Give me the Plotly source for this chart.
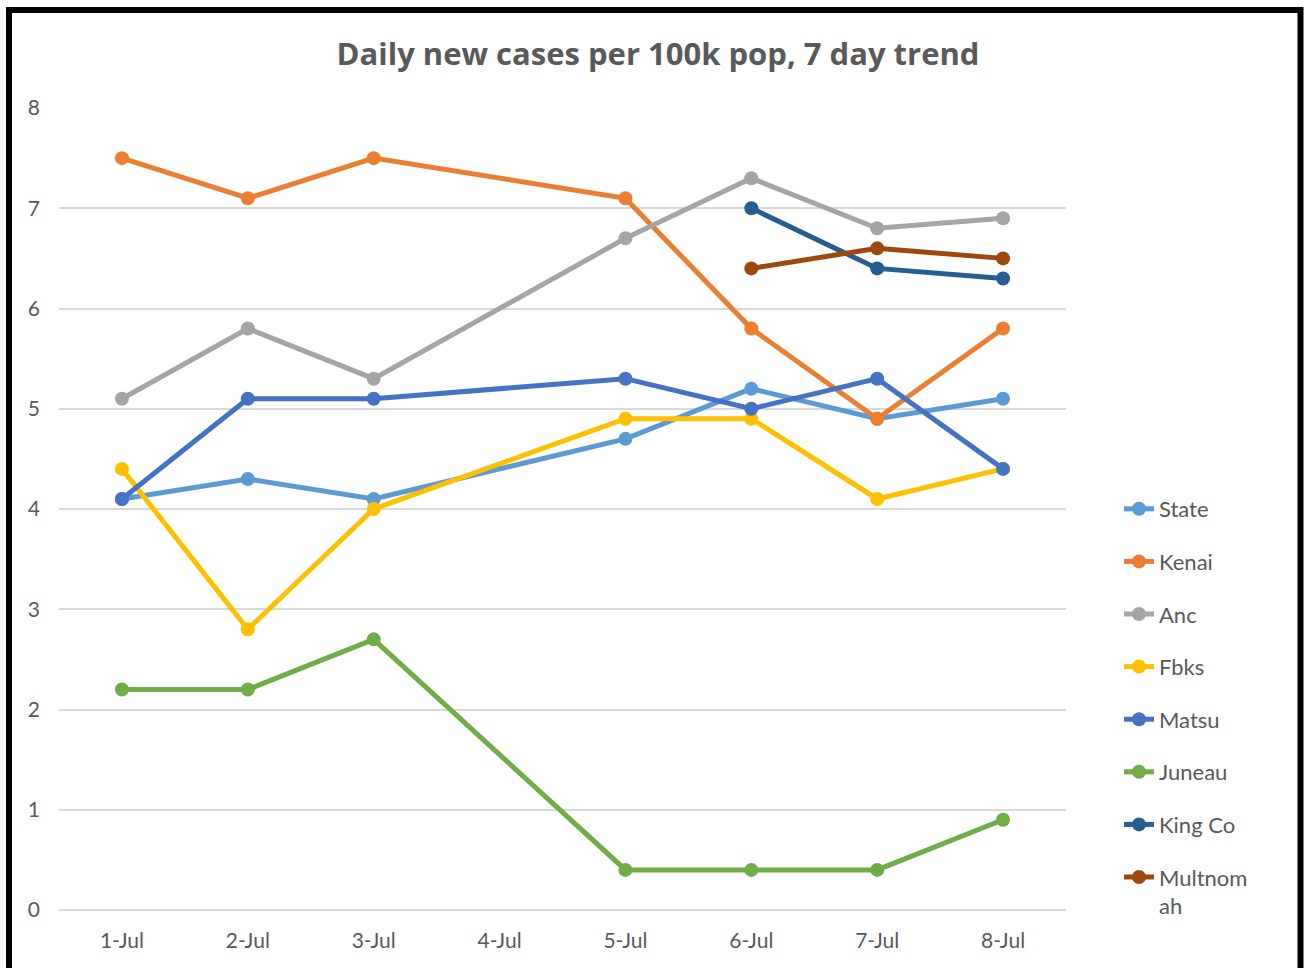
import plotly.graph_objects as go

dates = ["1-Jul", "2-Jul", "3-Jul", "4-Jul", "5-Jul", "6-Jul", "7-Jul", "8-Jul"]
state = [4.1, 4.3, 4.1, None, 4.7, 5.2, 4.9, 5.1]
kenai = [7.5, 7.1, 7.5, None, 7.1, 5.8, 4.9, 5.8]
anc = [5.1, 5.8, 5.3, None, 6.7, 7.3, 6.8, 6.9]
fbks = [4.4, 2.8, 4.0, None, 4.9, 4.9, 4.1, 4.4]
matsu = [4.1, 5.1, 5.1, None, 5.3, 5.0, 5.3, 4.4]
juneau = [2.2, 2.2, 2.7, None, 0.4, 0.4, 0.4, 0.9]
king_co = [None, None, None, None, None, 7.0, 6.4, 6.3]
multnomah = [None, None, None, None, None, 6.4, 6.6, 6.5]

series_names = ["State", "Kenai", "Anc", "Fbks", "Matsu", "Juneau", "King Co", "Multnom<br>ah"]
series_values = [state, kenai, anc, fbks, matsu, juneau, king_co, multnomah]
colors = ["#5B9BD5", "#ED7D31", "#A5A5A5", "#FFC000", "#4472C4", "#70AD47", "#255E91", "#9E480E"]

W, H = 1308, 968
L, R, T, B = 59, 1066, 108, 910
FONT = "Lato"
TXT = "#595959"

fig = go.Figure()
for i, (name, vals, col) in enumerate(zip(series_names, series_values, colors)):
    fig.add_trace(go.Scatter(
        x=dates, y=vals, name=name, mode="lines+markers",
        connectgaps=True, legendgroup=str(i),
        line=dict(color=col, width=5),
        marker=dict(color=col, size=14),
    ))

def px(xp):
    return (xp - L) / (R - L)

def py(yp):
    return (B - yp) / (B - T)

fig.update_layout(
    width=W, height=H,
    margin=dict(l=L, r=W - R, t=T, b=H - B),
    paper_bgcolor="white", plot_bgcolor="white",
    font=dict(family=FONT, color=TXT, size=20),
    title=dict(text="<b>Daily new cases per 100k pop, 7 day trend</b>",
               x=px(658), xanchor="center", xref="paper",
               y=1 - 54 / H, yanchor="middle",
               font=dict(family="Open Sans", size=31, color=TXT)),
    xaxis=dict(type="category", range=[-0.5, 7.5], showgrid=False,
               showline=False, ticks="", ticklabelstandoff=16,
               tickfont=dict(size=21, color=TXT)),
    yaxis=dict(range=[0, 8], dtick=1, showgrid=True, gridcolor="#D9D9D9",
               gridwidth=2, zeroline=True, zerolinecolor="#D9D9D9", zerolinewidth=2,
               showline=False, ticks="", ticklabelstandoff=18,
               tickfont=dict(size=21, color=TXT)),
    legend=dict(x=px(1119), xanchor="left", y=py(488), yanchor="top",
                font=dict(size=22, color=TXT), tracegroupgap=21,
                itemwidth=30, valign="top", bgcolor="rgba(0,0,0,0)"),
    showlegend=True,
)

fig.add_shape(type="rect", xref="paper", yref="paper",
              x0=px(9), x1=px(1300.5), y0=py(10), y1=py(990),
              line=dict(color="black", width=6), fillcolor="rgba(0,0,0,0)", layer="above")

fig.write_html("out.html", config={"displayModeBar": False},
               post_script="document.body.style.margin='0';document.body.style.overflow='hidden';")
